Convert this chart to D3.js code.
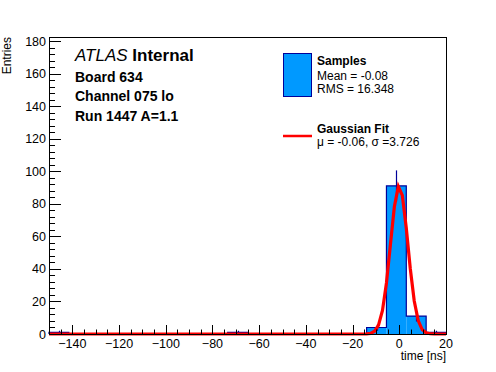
<!DOCTYPE html>
<html>
<head>
<meta charset="utf-8">
<script src="https://cdn.jsdelivr.net/npm/d3@7"></script>
<style>
  body { margin: 0; background: #fff; }
  svg { display: block; font-family: "Liberation Sans", Arial, Helvetica, sans-serif; }
</style>
</head>
<body>
<div id="chart"></div>
<script>
// histogram of pulse times, 20 bins of 8.5 ns from -150 to 20
const binLow = -150;
const binHigh = 20;
const binCounts = [1, 0, 0, 0, 0, 0, 0, 0, 0, 1, 0, 0, 0, 0, 0, 0, 4, 91, 11, 1];

// gaussian fit parameters (from the legend), amplitude
const fitAmp = 91;
const fitMean = -0.06;
const fitSigma = 3.726;
const fitPoints = 100;

const xTicks = [-140, -120, -100, -80, -60, -40, -20, 0, 20];
const yTicks = [0, 20, 40, 60, 80, 100, 120, 140, 160, 180];
const labelLines = ["Board 634", "Channel 075 lo", "Run 1447 A=1.1"];
const legendSamples = ["Mean = -0.08", "RMS = 16.348"];
const legendFit = "\u03bc = -0.06, \u03c3 =3.726";

const width = 496, height = 372;
const frame = {left: 49, right: 446, top: 37, bottom: 334};
const fillBlue = "#0099ff", lineBlue = "#000099";

const svg = d3.select("#chart").append("svg")
    .attr("width", width)
    .attr("height", height);

const x = d3.scaleLinear().domain([binLow, binHigh]).range([frame.left, frame.right]);
const y = d3.scaleLinear().domain([0, 182.5]).range([frame.bottom, frame.top]);

let binW = (binHigh - binLow) / binCounts.length;
let bins = binCounts.map((c, i) => ({lo: binLow + i * binW, hi: binLow + (i + 1) * binW, n: c}));

// filled bars
svg.append("g").selectAll("rect")
    .data(bins.filter(d => d.n > 0))
    .enter().append("rect")
    .attr("x", d => x(d.lo))
    .attr("y", d => y(d.n))
    .attr("width", d => x(d.hi) - x(d.lo))
    .attr("height", d => y(0) - y(d.n))
    .attr("fill", fillBlue);

// step outline of the histogram
let stepPts = [[binLow, 0]];
bins.forEach(d => { stepPts.push([d.lo, d.n]); stepPts.push([d.hi, d.n]); });
stepPts.push([binHigh, 0]);
svg.append("path")
    .attr("d", d3.line().x(d => x(d[0])).y(d => y(d[1]))(stepPts))
    .attr("fill", "none")
    .attr("stroke", lineBlue)
    .attr("stroke-width", 1.2);

// error bars (sqrt(n)) at bin centres
svg.append("g").selectAll("line")
    .data(bins.filter(d => d.n > 0))
    .enter().append("line")
    .attr("x1", d => Math.round(x((d.lo + d.hi) / 2)) + 0.5)
    .attr("x2", d => Math.round(x((d.lo + d.hi) / 2)) + 0.5)
    .attr("y1", d => y(d.n - Math.sqrt(d.n)))
    .attr("y2", d => y(d.n + Math.sqrt(d.n)))
    .attr("stroke", lineBlue)
    .attr("stroke-width", 1.2);

// fit curve
let gaus = v => fitAmp * Math.exp(-0.5 * Math.pow((v - fitMean) / fitSigma, 2));
let fitData = d3.range(fitPoints + 1).map(i => {
    let v = binLow + i * (binHigh - binLow) / fitPoints;
    return [v, gaus(v)];
});
svg.append("path")
    .attr("d", d3.line().x(d => x(d[0])).y(d => y(d[1]))(fitData))
    .attr("fill", "none")
    .attr("stroke", "#ff0000")
    .attr("stroke-width", 3.2);

// frame
svg.append("rect")
    .attr("x", frame.left + 0.5).attr("y", frame.top + 0.5)
    .attr("width", frame.right - frame.left).attr("height", frame.bottom - frame.top)
    .attr("fill", "none").attr("stroke", "#000").attr("stroke-width", 1);

// x axis ticks (inside, pointing up)
let xt = svg.append("g").attr("stroke", "#000").attr("stroke-width", 1);
d3.range(binLow, binHigh + 0.1, 5).forEach(v => {
    let len = (v % 20 === 0) ? 9 : 4.5;
    let px = Math.round(x(v)) + 0.5;
    xt.append("line").attr("x1", px).attr("x2", px)
        .attr("y1", frame.bottom).attr("y2", frame.bottom - len);
});
svg.append("g").selectAll("text")
    .data(xTicks)
    .enter().append("text")
    .attr("x", d => x(d))
    .attr("y", 348)
    .attr("text-anchor", "middle")
    .attr("font-size", 12.5)
    .text(d => d3.format("")(d));

// y axis ticks (inside, pointing right)
let yt = svg.append("g").attr("stroke", "#000").attr("stroke-width", 1);
d3.range(0, 181, 4).forEach(v => {
    let len = (v % 20 === 0) ? 12 : 6;
    let py = Math.round(y(v)) + 0.5;
    yt.append("line").attr("x1", frame.left).attr("x2", frame.left + len)
        .attr("y1", py).attr("y2", py);
});
svg.append("g").selectAll("text")
    .data(yTicks)
    .enter().append("text")
    .attr("x", 46)
    .attr("y", d => y(d) + 4.5)
    .attr("text-anchor", "end")
    .attr("font-size", 12.5)
    .text(d => d);

// axis titles
svg.append("text")
    .attr("x", frame.right).attr("y", 360)
    .attr("text-anchor", "end").attr("font-size", 12)
    .text("time [ns]");
svg.append("text")
    .attr("transform", "translate(11,37) rotate(-90)")
    .attr("text-anchor", "end").attr("font-size", 12)
    .text("Entries");

// ATLAS label
let atlas = svg.append("text").attr("x", 75).attr("y", 61).attr("font-size", 17);
atlas.append("tspan").attr("font-style", "italic").text("ATLAS");
atlas.append("tspan").attr("font-weight", "bold").text(" Internal");
labelLines.forEach((s, i) => {
    svg.append("text")
        .attr("x", 75).attr("y", 81.5 + i * 19.5)
        .attr("font-size", 14).attr("font-weight", "bold")
        .text(s);
});

// legend
svg.append("rect")
    .attr("x", 283.5).attr("y", 53.5).attr("width", 28).attr("height", 43)
    .attr("fill", fillBlue).attr("stroke", lineBlue).attr("stroke-width", 1);
svg.append("text").attr("x", 317).attr("y", 65)
    .attr("font-size", 12).attr("font-weight", "bold").text("Samples");
legendSamples.forEach((s, i) => {
    svg.append("text").attr("x", 317).attr("y", 80 + i * 13.3)
        .attr("font-size", 12).text(s);
});
svg.append("line")
    .attr("x1", 283).attr("x2", 312).attr("y1", 136).attr("y2", 136)
    .attr("stroke", "#ff0000").attr("stroke-width", 2.5);
svg.append("text").attr("x", 317).attr("y", 132.5)
    .attr("font-size", 12).attr("font-weight", "bold").text("Gaussian Fit");
svg.append("text").attr("x", 317).attr("y", 145.5)
    .attr("font-size", 12).text(legendFit);
</script>
</body>
</html>
